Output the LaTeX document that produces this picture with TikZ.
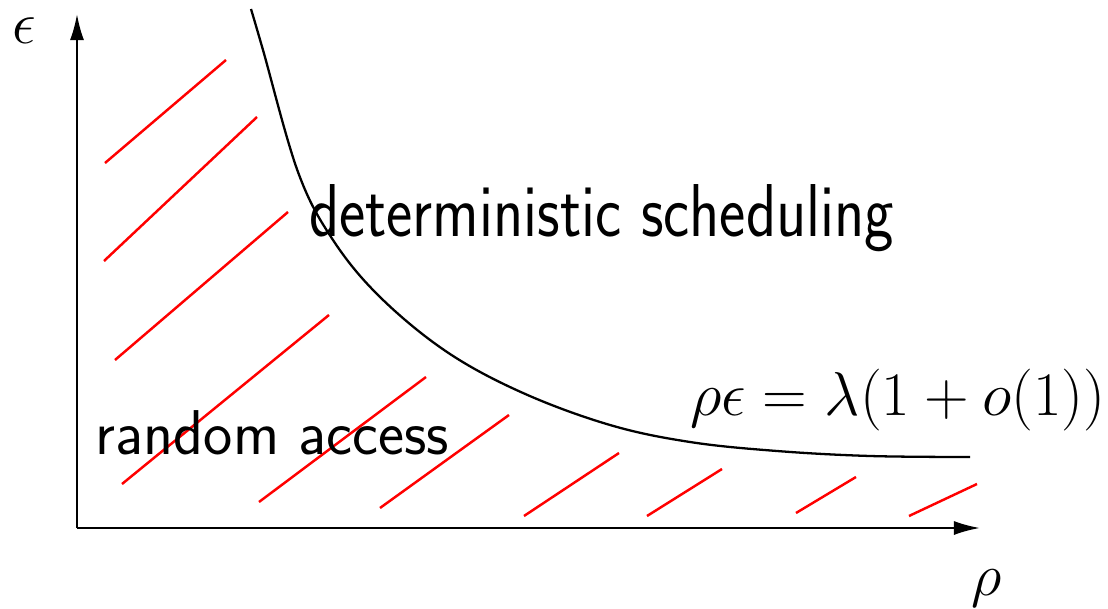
\RequirePackage{fix-cm}
\documentclass[tikz,border=0pt]{standalone}
\usepackage{fontspec}
\usetikzlibrary{arrows.meta}
\begin{document}
\begin{tikzpicture}[x=0.01cm,y=-0.01cm,
  axis/.style={line width=0.6pt,-{Latex[length=0.26cm,width=0.14cm]}},
  bound/.style={line width=0.65pt},
  hatch/.style={red,line width=0.7pt},
  lbl/.style={inner sep=0pt,outer sep=0pt}]
\useasboundingbox (0,0) rectangle (1108,609);
% axes
\coordinate (O) at (77,528);
\coordinate (ytip) at (77,14);
\coordinate (xtip) at (980,528);
\draw[axis] (O) -- (ytip);
\draw[axis] (O) -- (xtip);
\node[lbl,anchor=base] (eps) at (24,44) {\fontsize{17}{20}\selectfont$\epsilon$};
\node[lbl,anchor=base] (rho) at (987,595) {\fontsize{17}{20}\selectfont$\rho$};
% hatch lines
\foreach \a/\b/\c/\d [count=\i] in {105/163/226/60, 104/261/257/117, 115/360/288/212,
  122/484/329/315, 259/502/426/377, 380/508/509/415, 524/516/619/453,
  647/516/722/469, 796/513/856/477, 909/516/977/484}{
  \coordinate (h\i a) at (\a,\b);
  \coordinate (h\i b) at (\c,\d);
  \draw[hatch] (h\i a) -- (h\i b);
}
% boundary curve
\draw[bound] plot[smooth,tension=0.6] coordinates {(251,9) (263,50) (298,172) (333,240)
  (380,297) (447,352) (523,393) (610,425) (690,442) (777,451) (870,456) (970,457)};
% labels
\node[lbl,anchor=base west] (det) at (309,236) {\scalebox{0.835}[1]{\fontsize{21.3}{25}\selectfont\sffamily deterministic scheduling}};
\node[lbl,anchor=base west] (ra) at (96,454) {\scalebox{0.98}[1]{\fontsize{18}{22}\selectfont\sffamily random access}};
\node[lbl,anchor=base west] (eq) at (690,416) {\fontsize{17.6}{20}\selectfont$\rho\epsilon=\lambda(1+o(1))$};
\end{tikzpicture}
\end{document}
